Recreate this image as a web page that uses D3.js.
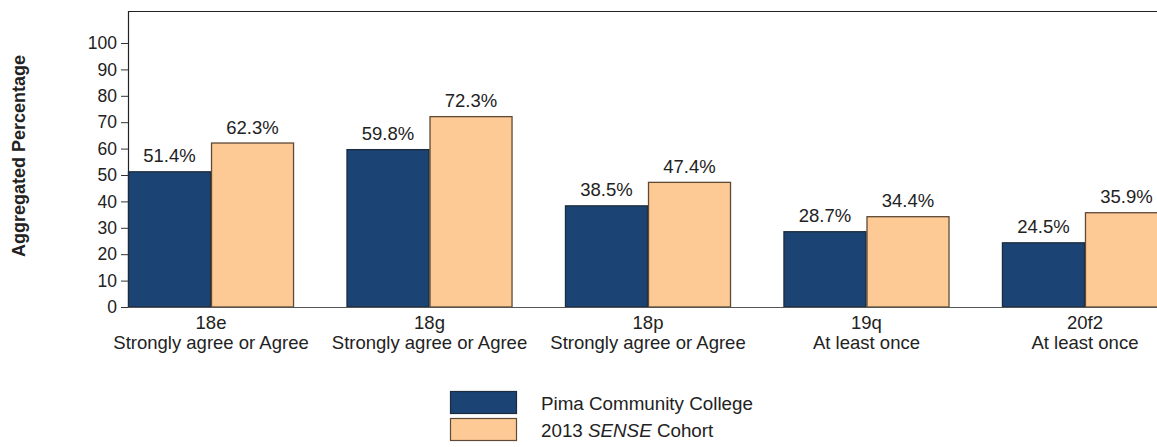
<!DOCTYPE html>
<html><head><meta charset="utf-8">
<script src="https://cdn.jsdelivr.net/npm/d3@7"></script>
<style>
body{margin:0;background:#fff;}
svg{display:block;font-family:"Liberation Sans",Arial,sans-serif;}
</style></head>
<body>
<svg id="chart" width="1157" height="447"></svg>
<script>
const codes = ["18e","18g","18p","19q","20f2"];
const responses = ["Strongly agree or Agree","Strongly agree or Agree","Strongly agree or Agree","At least once","At least once"];
const seriesNames = ["Pima Community College","2013 SENSE Cohort"];
const pima = [51.4, 59.8, 38.5, 28.7, 24.5];
const cohort = [62.3, 72.3, 47.4, 34.4, 35.9];
const yTicks = [0,10,20,30,40,50,60,70,80,90,100];

const fills = ["#1b4474","#fdca96"];
const strokes = ["#1d2b3c","#5e4a36"];

const svg = d3.select("#chart");
const plotLeft = 128, plotTop = 11, plotBottom = 307;

const y = d3.scaleLinear().domain([0,100]).range([plotBottom, 43]);
const x0 = d3.scaleBand().domain(codes).range([plotLeft, 1168]).paddingInner(0.24).paddingOuter(0);
const x1 = d3.scaleBand().domain([0,1]).range([0, x0.bandwidth()]);

// cut-off heading at top-left
svg.append("text").attr("x",-18).attr("y",-3).attr("font-size",14).attr("fill","#222").text("Figure 5");

// frame
svg.append("line").attr("x1",plotLeft).attr("x2",1157).attr("y1",plotTop+0.5).attr("y2",plotTop+0.5).attr("stroke","#222").attr("stroke-width",1.2);
svg.append("line").attr("x1",plotLeft+0.5).attr("x2",plotLeft+0.5).attr("y1",plotTop).attr("y2",plotBottom).attr("stroke","#222").attr("stroke-width",1.2);

// y axis ticks
const yAxis = d3.axisLeft(y).tickValues(yTicks).tickSize(7).tickPadding(4);
const ga = svg.append("g").attr("transform",`translate(${plotLeft},0)`).call(yAxis);
ga.select(".domain").remove();
ga.selectAll("line").attr("stroke","#333");
ga.selectAll("text").attr("font-size",17.5).attr("fill","#222").attr("font-family","Liberation Sans, Arial, sans-serif");

// bars
const series = [pima, cohort];
const g = svg.append("g");
codes.forEach((c,i)=>{
  series.forEach((s,j)=>{
    const bx = x0(c) + x1(j);
    g.append("rect").attr("x",bx+0.5).attr("y",y(s[i])+0.5)
      .attr("width",x1.bandwidth()-1).attr("height",y(0)-y(s[i])-0.5)
      .attr("fill",fills[j]).attr("stroke",strokes[j]).attr("stroke-width",1.3);
    g.append("text").attr("x",bx+x1.bandwidth()/2).attr("y",y(s[i])-9)
      .attr("text-anchor","middle").attr("font-size",18.5).attr("fill","#222")
      .text(s[i].toFixed(1)+"%");
  });
});

// x axis baseline
svg.append("line").attr("x1",plotLeft).attr("x2",1157).attr("y1",plotBottom+0.5).attr("y2",plotBottom+0.5).attr("stroke","#555").attr("stroke-width",1.2);

// category labels
codes.forEach((c,i)=>{
  const cx = x0(c)+x0.bandwidth()/2;
  const t = svg.append("text").attr("text-anchor","middle").attr("font-size",18.5).attr("fill","#222");
  t.append("tspan").attr("x",cx).attr("y",329).text(c);
  t.append("tspan").attr("x",cx).attr("y",349).text(responses[i]);
});

// y title
svg.append("text").attr("transform","translate(25,156) rotate(-90)").attr("text-anchor","middle")
  .attr("font-size",18).attr("font-weight","bold").attr("fill","#222").text("Aggregated Percentage");

// legend
const lg = svg.append("g");
[0,1].forEach(j=>{
  const ly = 391 + j*27;
  lg.append("rect").attr("x",450.5).attr("y",ly+0.5).attr("width",66).attr("height",22)
    .attr("fill",fills[j]).attr("stroke",strokes[j]).attr("stroke-width",1.2);
});
lg.append("text").attr("x",541).attr("y",410).attr("font-size",18.8).attr("fill","#222").text(seriesNames[0]);
const t2 = lg.append("text").attr("x",541).attr("y",437).attr("font-size",18.8).attr("fill","#222");
t2.append("tspan").text("2013 ");
t2.append("tspan").attr("font-style","italic").text("SENSE");
t2.append("tspan").text(" Cohort");
</script>
</body></html>
